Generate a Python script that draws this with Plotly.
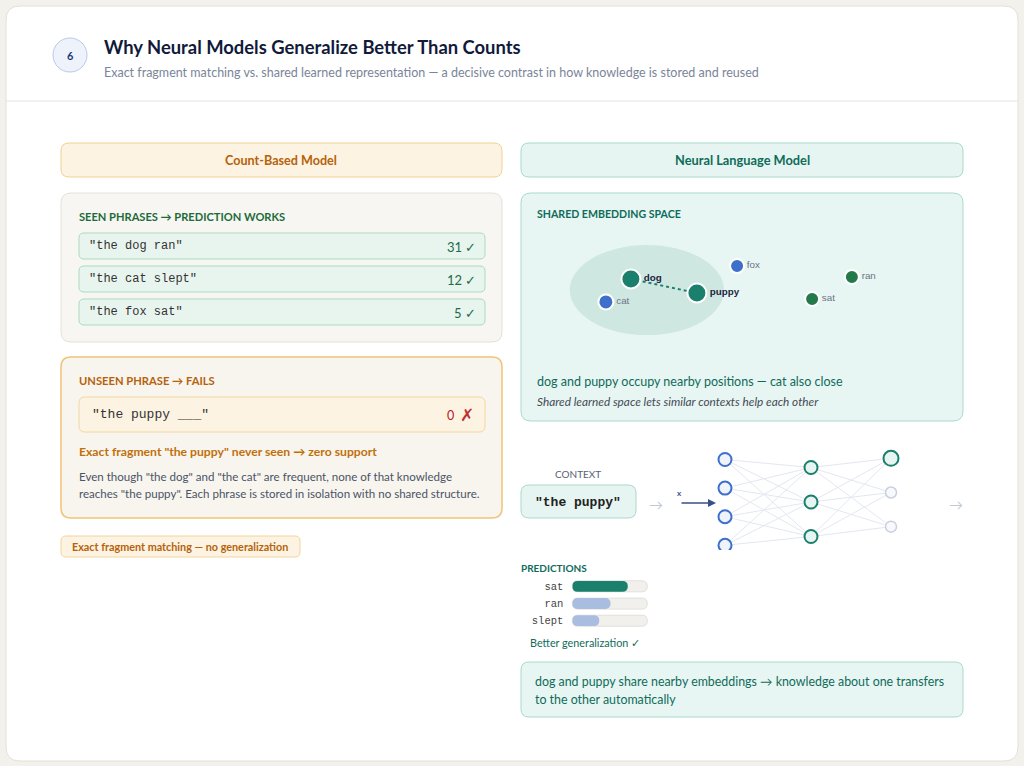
import plotly.graph_objects as go

W, H = 1024, 766

# ---------------- data ----------------
step_number = "6"
title = "Why Neural Models Generalize Better Than Counts"
subtitle = ("Exact fragment matching vs. shared learned representation — "
            "a decisive contrast in how knowledge is stored and reused")

seen_phrases = ['"the dog ran"', '"the cat slept"', '"the fox sat"']
seen_counts = [31, 12, 5]
unseen_phrase = '"the puppy ___"'
unseen_count = 0

emb_words = ["dog", "cat", "puppy", "fox", "sat", "ran"]
emb_x = [2.29, 1.68, 3.90, 4.88, 6.71, 7.68]
emb_y = [3.74, 2.68, 3.09, 4.34, 2.82, 3.83]
emb_kind = ["focus", "animal", "focus", "animal", "verb", "verb"]

context_phrase = '"the puppy"'
layer_sizes = [4, 3, 3]

pred_words = ["sat", "ran", "slept"]
pred_probs = [0.74, 0.51, 0.36]

# ---------------- style ----------------
SANS = "Lato, 'Noto Sans', sans-serif"
MONO = "'Liberation Mono', 'Courier New', monospace"
ARIAL = "'Liberation Sans', Arial, sans-serif"
ORANGE = "#b5620a"
TEAL = "#0f6b5a"
TEAL_DOT = "#1a7f6c"
BLUE = "#3e6fca"
GREEN = "#24794a"

shapes = []
annotations = []


def rrect(x0, y0, x1, y1, r, fill, line, lw=1.0):
    p = (f"M {x0+r},{y0} L {x1-r},{y0} Q {x1},{y0} {x1},{y0+r} "
         f"L {x1},{y1-r} Q {x1},{y1} {x1-r},{y1} L {x0+r},{y1} "
         f"Q {x0},{y1} {x0},{y1-r} L {x0},{y0+r} Q {x0},{y0} {x0+r},{y0} Z")
    shapes.append(dict(type="path", path=p, xref="x", yref="y",
                       fillcolor=fill, line=dict(color=line, width=lw),
                       layer="below"))


def txt(x, y, text, size, color, family=SANS, anchor="left"):
    if anchor == "left":
        x -= 2
    elif anchor == "right":
        x += 2
    annotations.append(dict(x=x, y=y, xref="x", yref="y", text=text,
                            showarrow=False, xanchor=anchor, yanchor="middle",
                            font=dict(size=size, color=color, family=family)))


# card
rrect(6, 6, 1018, 761, 14, "#ffffff", "#e3e0d9", 1)
shapes.append(dict(type="line", x0=6, x1=1018, y0=101, y1=101, xref="x", yref="y",
                   line=dict(color="#e6e3dd", width=1), layer="below"))
shapes.append(dict(type="circle", x0=53, x1=87, y0=38, y1=72, xref="x", yref="y",
                   fillcolor="#eef3fb", line=dict(color="#b9c9e7", width=1), layer="below"))
txt(70, 55, f"<b>{step_number}</b>", 11, "#1f3a7a", anchor="center")
txt(104, 47, f"<b>{title}</b>", 18.4, "#111a3a")
txt(104, 72, subtitle, 12.5, "#7a8599")

# ---- left column ----
rrect(61, 143, 502, 177, 8, "#fdf3e3", "#f2cf92")
txt(281, 160, "<b>Count-Based Model</b>", 12.6, ORANGE, anchor="center")

rrect(61, 193, 502, 342, 10, "#f7f6f2", "#e4e1d9")
txt(79, 216, "<b>SEEN PHRASES → PREDICTION WORKS</b>", 11.1, "#1d6b3a")
for i, (ph, c) in enumerate(zip(seen_phrases, seen_counts)):
    y0 = 233 + i * 33
    rrect(79, y0, 485, y0 + 26, 5, "#e8f5ee", "#a9dcbd")
    txt(89, y0 + 13, ph, 12, "#333333", family=MONO)
    txt(476, y0 + 14, f"{c} ✓", 13, "#1d6b47", anchor="right")

rrect(61, 357, 502, 518, 10, "#f8f5ef", "#f0c47a", 1.5)
txt(79, 380, "<b>UNSEEN PHRASE → FAILS</b>", 11.2, ORANGE)
rrect(79, 397, 485, 432, 6, "#fdf3e3", "#f2d69e")
txt(92, 414, unseen_phrase, 13, "#333333", family=MONO)
txt(450, 415, f"{unseen_count}", 12.5, "#b52020", anchor="center")
txt(467, 414, "✗", 17, "#c03030", anchor="center")
txt(79, 451, '<b>Exact fragment "the puppy" never seen → zero support</b>', 12.2, "#c0700a")
txt(79, 476, 'Even though "the dog" and "the cat" are frequent, none of that knowledge', 11.55, "#4a5466")
txt(79, 493, 'reaches "the puppy". Each phrase is stored in isolation with no shared structure.', 11.55, "#4a5466")

rrect(61, 536, 300, 557, 5, "#fdf3e3", "#f3d49c")
txt(72, 546.5, "<b>Exact fragment matching — no generalization</b>", 10.8, ORANGE)

# ---- right column ----
rrect(521, 143, 963, 177, 8, "#e6f5f1", "#a9d9cc")
txt(742, 160, "<b>Neural Language Model</b>", 12.8, TEAL, anchor="center")

rrect(521, 193, 963, 421, 10, "#e8f6f3", "#a9d9cc")
txt(537, 214, "<b>SHARED EMBEDDING SPACE</b>", 10.6, TEAL)
shapes.append(dict(type="circle", xref="x2", yref="y2", x0=0.80, x1=4.56, y0=1.15, y1=5.31,
                   fillcolor="#cfe7e1", line=dict(width=0), layer="below"))
txt(537, 381, "dog and puppy occupy nearby positions — cat also close", 12.5, TEAL)
txt(537, 401, "<i>Shared learned space lets similar contexts help each other</i>", 11.8, "#444a55")

txt(578, 474, "CONTEXT", 10, "#5a6275", anchor="center")
rrect(521, 485, 636, 518, 8, "#e6f5f1", "#a9d9cc")
txt(578, 502, f"<b>{context_phrase}</b>", 13, "#222222", family=MONO, anchor="center")
txt(656, 504, "→", 14, "#c2c8d6", anchor="center")
txt(956, 504, "→", 14, "#c2c8d6", anchor="center")
txt(679, 493, "<b>x</b>", 8, "#3a4f8a", anchor="center")
annotations.append(dict(x=716, y=503, ax=680, ay=503, xref="x", yref="y", axref="x", ayref="y",
                        showarrow=True, arrowhead=2, arrowsize=1, arrowwidth=1.6,
                        arrowcolor="#3a4f8a", text=""))

txt(521, 568, "<b>PREDICTIONS</b>", 10, TEAL)
txt(530, 642, "Better generalization ✓", 10.8, TEAL)

rrect(521, 662, 963, 717, 8, "#e8f6f3", "#a9d9cc")
txt(535, 681, "dog and puppy share nearby embeddings → knowledge about one transfers", 12.4, TEAL)
txt(535, 699, "to the other automatically", 12.4, TEAL)

# prediction tracks (background pills)
BAR_X0, BAR_X1, BAR_H = 572.3, 647.3, 11
row_y = [586.3, 603.6, 620.7]
for yc in row_y:
    rrect(BAR_X0, yc - BAR_H / 2, BAR_X1, yc + BAR_H / 2, 5.5, "#f1f0ec", "#e2e0da")

fig = go.Figure()

# ---- embedding scatter (x2/y2) ----
col_map = {"focus": TEAL_DOT, "animal": BLUE, "verb": GREEN}
size_map = {"focus": 19, "animal": 15, "verb": 14}
emb_colors = [col_map[k] for k in emb_kind]
emb_sizes = [size_map[k] for k in emb_kind]
emb_sizes[3] = 14
emb_text = [f"<b>{w}</b>" if k == "focus" else w for w, k in zip(emb_words, emb_kind)]
emb_tcol = ["#1a2440" if k == "focus" else "#6b7385" for k in emb_kind]
i_dog, i_pup = emb_words.index("dog"), emb_words.index("puppy")
fig.add_trace(go.Scatter(x=[emb_x[i_dog], emb_x[i_pup]], y=[emb_y[i_dog], emb_y[i_pup]],
                         mode="lines", xaxis="x2", yaxis="y2", hoverinfo="skip",
                         line=dict(color=TEAL_DOT, width=2, dash="dot")))
fig.add_trace(go.Scatter(x=emb_x, y=emb_y, mode="markers+text", xaxis="x2", yaxis="y2",
                         text=emb_text, textposition="middle right",
                         textfont=dict(family=ARIAL, size=9.8, color=emb_tcol),
                         marker=dict(color=emb_colors, size=emb_sizes, opacity=1,
                                     line=dict(color="white", width=2)),
                         cliponaxis=False))

# ---- network (x4/y4, pixel-like units) ----
layer_x = [725, 811, 891]
layer_top = [459.5, 467.5, 458.3]
layer_gap = [28.6, 34.5, 34.2]
nodes = []
for li, n in enumerate(layer_sizes):
    nodes.append([(layer_x[li], layer_top[li] + j * layer_gap[li]) for j in range(n)])
ex, ey = [], []
for li in range(len(nodes) - 1):
    for a in nodes[li]:
        for b in nodes[li + 1]:
            ex += [a[0], b[0], None]
            ey += [a[1], b[1], None]
fig.add_trace(go.Scatter(x=ex, y=ey, mode="lines", xaxis="x4", yaxis="y4", hoverinfo="skip",
                         line=dict(color="#e3e7f0", width=1)))
nx, ny, nfill, nline, nsize, nlw = [], [], [], [], [], []
for li, layer in enumerate(nodes):
    for j, (px, py) in enumerate(layer):
        nx.append(px)
        ny.append(py)
        if li == 0:
            nfill.append("#eef3fc"); nline.append(BLUE); nsize.append(13); nlw.append(2)
        elif li == 1:
            nfill.append("#e6f5f1"); nline.append(TEAL_DOT); nsize.append(13); nlw.append(2)
        elif j == 0:
            nfill.append("#e6f5f1"); nline.append(TEAL_DOT); nsize.append(15); nlw.append(2)
        else:
            nfill.append("#f8f9fc"); nline.append("#c8cfe0"); nsize.append(11); nlw.append(1.5)
fig.add_trace(go.Scatter(x=nx, y=ny, mode="markers", xaxis="x4", yaxis="y4", hoverinfo="skip",
                         marker=dict(color=nfill, size=nsize, opacity=1,
                                     line=dict(color=nline, width=nlw))))

# ---- prediction bars (x3/y3): floating bars (tiny base) are rounded at both ends ----
pred_colors = [TEAL_DOT, "#a9bde0", "#a9bde0"]
eps = 1e-4
fig.add_trace(go.Bar(y=pred_words, x=[p - eps for p in pred_probs], base=[eps] * len(pred_words),
                     orientation="h", xaxis="x3", yaxis="y3", width=0.64,
                     marker=dict(color=pred_colors, line=dict(width=0), cornerradius=5.5)))

hidden = dict(visible=False, fixedrange=True)
fig.update_layout(
    width=W, height=H, margin=dict(l=0, r=0, t=0, b=0),
    paper_bgcolor="#f3f1ec", plot_bgcolor="rgba(0,0,0,0)",
    showlegend=False, barmode="overlay",
    xaxis=dict(range=[0, W], domain=[0, 1], **hidden),
    yaxis=dict(range=[H, 0], domain=[0, 1], **hidden),
    xaxis2=dict(range=[0, 10], domain=[537 / W, 947 / W], anchor="y2", **hidden),
    yaxis2=dict(range=[0, 6], domain=[(H - 360) / H, (H - 230) / H], anchor="x2", **hidden),
    xaxis3=dict(range=[0, 1], domain=[BAR_X0 / W, BAR_X1 / W], anchor="y3", **hidden),
    yaxis3=dict(domain=[(H - 629.2) / H, (H - 577.8) / H], anchor="x3", visible=True,
                showgrid=False, zeroline=False, showline=False, ticks="",
                categoryorder="array", categoryarray=pred_words[::-1],
                tickfont=dict(family=MONO, size=10.5, color="#444444"),
                ticklabelstandoff=8, fixedrange=True),
    xaxis4=dict(range=[0, W], domain=[0, 1], anchor="y4", **hidden),
    yaxis4=dict(range=[550, 440], domain=[(H - 550) / H, (H - 440) / H], anchor="x4", **hidden),
    shapes=shapes, annotations=annotations,
)

fig.write_html("out.html", config={"displayModeBar": False},
               post_script="document.body.style.margin='0';document.body.style.overflow='hidden';")
